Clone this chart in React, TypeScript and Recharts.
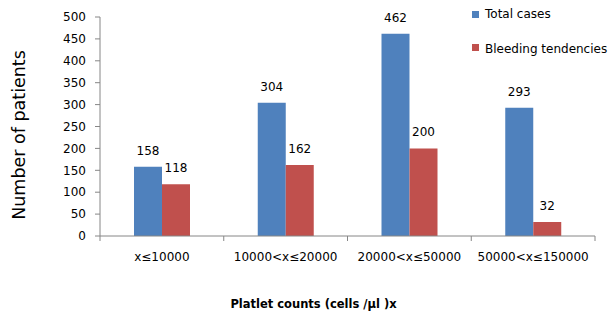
import React from 'react';
import { BarChart, Bar, XAxis, YAxis, Legend, LabelList } from 'recharts';

const categories = ['x≤10000', '10000<x≤20000', '20000<x≤50000', '50000<x≤150000'];
const totalCases = [158, 304, 462, 293];
const bleedingTendencies = [118, 162, 200, 32];
const yTicks = [0, 50, 100, 150, 200, 250, 300, 350, 400, 450, 500];
const seriesOrder = ['total', 'bleeding'];

const data = categories.map((c, i) => ({
  category: c,
  total: totalCases[i],
  bleeding: bleedingTendencies[i],
}));

const AXIS = '#868686';
const BLUE = '#4F81BD';
const RED = '#C0504D';

const XTick = (props: any) => {
  const { x, y, payload, index } = props;
  const half = payload.offset || 0;
  return (
    <g>
      <line x1={x - half} x2={x - half} y1={y} y2={y + 5} stroke={AXIS} />
      {index === categories.length - 1 && (
        <line x1={x + half} x2={x + half} y1={y} y2={y + 5} stroke={AXIS} />
      )}
      <text x={x} y={y + 25} textAnchor="middle" fontSize={12} fill="#000">
        {payload.value}
      </text>
    </g>
  );
};

const renderLegend = (props: any) => {
  const items = [...(props.payload || [])].sort(
    (a: any, b: any) => seriesOrder.indexOf(a.dataKey) - seriesOrder.indexOf(b.dataKey)
  );
  return (
    <svg width={150} height={62} style={{ display: 'block' }}>
      {items.map((it: any, i: number) => (
        <g key={i}>
          <rect x={2} y={11 + i * 33} width={7} height={7} fill={it.color} />
          <text x={15} y={17.5 + i * 35.5} fontSize={12} fill="#000">
            {it.value}
          </text>
        </g>
      ))}
    </svg>
  );
};

export default function App() {
  return (
    <div style={{ position: 'absolute', left: 0, top: 0, fontFamily: '"DejaVu Sans", sans-serif', background: '#fff' }}>
      <BarChart
        width={616}
        height={316}
        data={data}
        margin={{ top: 17, right: 21, left: 0, bottom: 0 }}
        barSize={28}
        barGap={0}
      >
        <XAxis
          dataKey="category"
          height={80}
          stroke={AXIS}
          tickLine={false}
          tickSize={0}
          tickMargin={0}
          tick={<XTick />}
          interval={0}
          label={{
            content: (p: any) => {
              const vb = p.viewBox || { x: 100, y: 236 };
              return (
                <text x={vb.x + 213.5} y={vb.y + 72} textAnchor="middle" fontSize={11.5} fontWeight="bold" fill="#000">
                  Platlet counts (cells /µl )x
                </text>
              );
            },
          }}
        />
        <YAxis
          width={100}
          domain={[0, 500]}
          ticks={yTicks}
          interval={0}
          stroke={AXIS}
          tickSize={5}
          tickMargin={9}
          tick={{ fill: '#000', fontSize: 12 }}
          label={{
            content: (p: any) => {
              const vb = p.viewBox || { x: 0, y: 17, height: 219 };
              const cx = vb.x + 25;
              const cy = vb.y + vb.height / 2 + 8.5;
              return (
                <text x={cx} y={cy} textAnchor="middle" fontSize={17.5} fill="#000" transform={`rotate(-90, ${cx}, ${cy})`}>
                  Number of patients
                </text>
              );
            },
          }}
        />
        <Legend
          layout="vertical"
          align="center"
          verticalAlign="middle"
          content={renderLegend}
          wrapperStyle={{ position: 'absolute', left: 470, top: 0, width: 150, height: 62 }}
        />
        <Bar dataKey="total" name="Total cases" fill={BLUE} isAnimationActive={false}>
          <LabelList dataKey="total" position="top" offset={12} fill="#000" fontSize={12} />
        </Bar>
        <Bar dataKey="bleeding" name="Bleeding tendencies" fill={RED} isAnimationActive={false}>
          <LabelList dataKey="bleeding" position="top" offset={12} fill="#000" fontSize={12} />
        </Bar>
      </BarChart>
    </div>
  );
}
